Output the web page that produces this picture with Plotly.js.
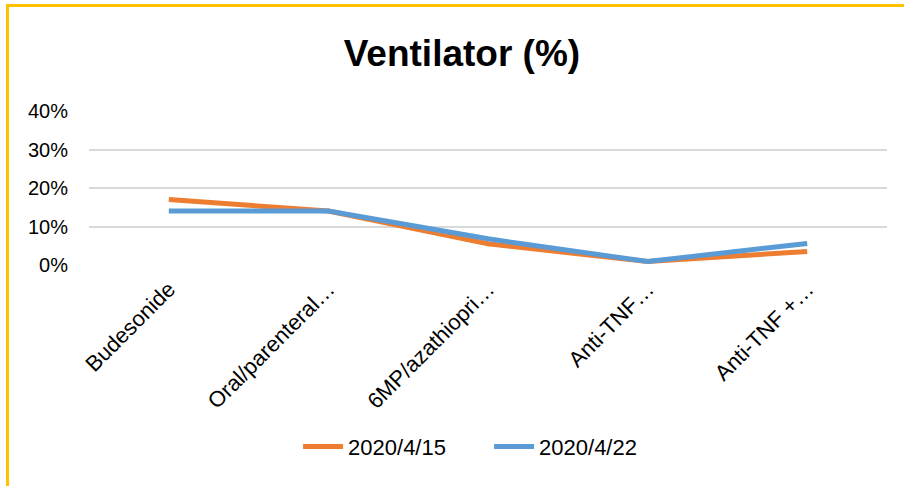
<!DOCTYPE html>
<html>
<head>
<meta charset="utf-8">
<script src="https://cdn.plot.ly/plotly-3.0.1.min.js"></script>
<style>
html,body{margin:0;padding:0;background:#fff;}
#wrap{position:relative;width:904px;height:486px;overflow:hidden;}
#chart{width:904px;height:486px;}
#frame{position:absolute;left:6px;top:4px;width:920px;height:500px;border-left:3px solid #FFC000;border-top:3px solid #FFC000;pointer-events:none;}
</style>
</head>
<body>
<div id="wrap"><div id="chart"></div><div id="frame"></div></div>
<script>
const categories = ["Budesonide", "Oral/parenteral…", "6MP/azathiopri…", "Anti-TNF…", "Anti-TNF +…"];
const series1Name = "2020/4/15";
const series1 = [0.17, 0.14, 0.055, 0.009, 0.035];
const series2Name = "2020/4/22";
const series2 = [0.14, 0.14, 0.068, 0.009, 0.056];
const yTickVals = [0, 0.1, 0.2, 0.3, 0.4];
const yTickText = ["0%", "10%", "20%", "30%", "40%"];

const font = "Liberation Sans, Arial, sans-serif";
const data = [
  {x: categories, y: series1, name: series1Name, type: "scatter", mode: "lines",
   line: {color: "#ED7D31", width: 5}},
  {x: categories, y: series2, name: series2Name, type: "scatter", mode: "lines",
   line: {color: "#5B9BD5", width: 5}}
];
const layout = {
  width: 904, height: 486,
  margin: {l: 89, r: 17, t: 111, b: 221},
  paper_bgcolor: "#fff", plot_bgcolor: "#fff",
  font: {family: font, color: "#000", size: 20},
  title: {text: "<b>Ventilator (%)</b>", font: {family: font, size: 37, color: "#000"},
          x: 0.511, xanchor: "center", y: 0.89, yanchor: "middle"},
  showlegend: true,
  legend: {orientation: "h", x: 0.262, xanchor: "left", y: -1.18, yanchor: "middle",
           entrywidth: 136, entrywidthmode: "pixels",
           font: {family: font, size: 22, color: "#000"}, itemwidth: 40},
  xaxis: {type: "category", tickangle: -45, showgrid: false, zeroline: false,
          showline: false, ticks: "", ticklabelstandoff: 6,
          tickfont: {family: font, size: 22, color: "#000"}, range: [-0.5, 4.5]},
  yaxis: {range: [0, 0.4], tickvals: yTickVals, ticktext: yTickText,
          showgrid: true, gridcolor: "#D9D9D9", gridwidth: 2, zeroline: false,
          showline: false, ticks: "", ticklabelstandoff: 20,
          tickfont: {family: font, size: 20, color: "#000"}}
};
Plotly.newPlot("chart", data, layout, {displayModeBar: false, staticPlot: true});
</script>
</body>
</html>
